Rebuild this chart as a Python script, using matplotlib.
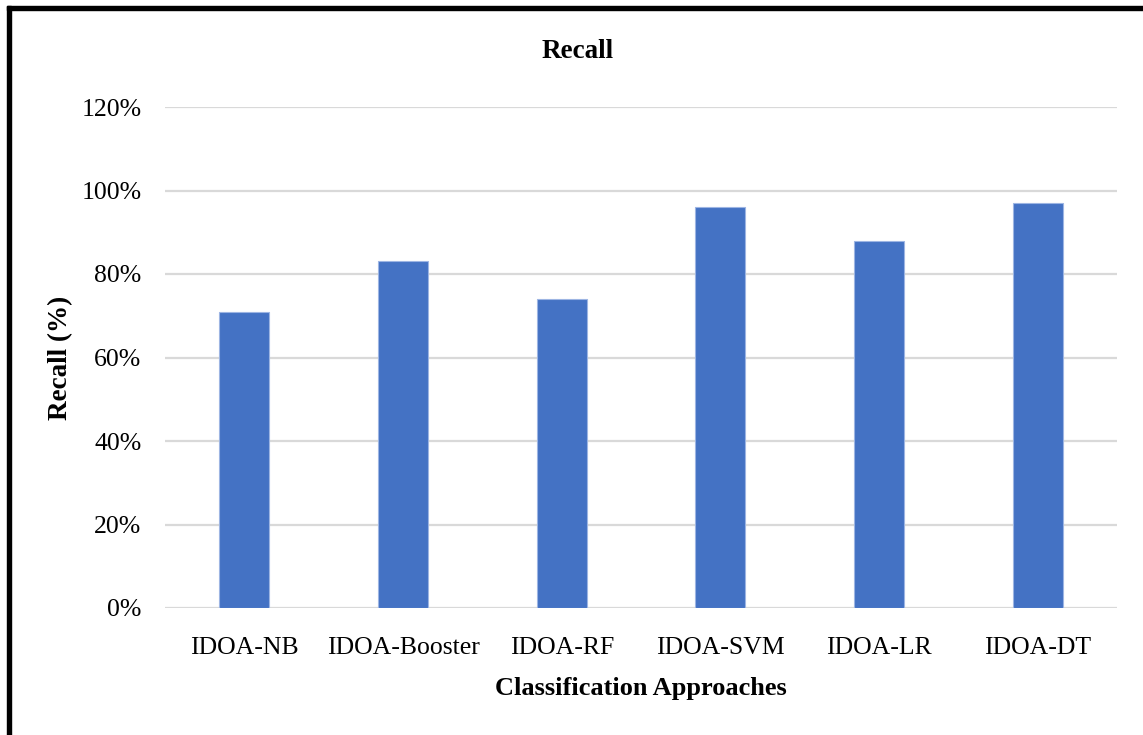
import matplotlib
matplotlib.use("Agg")
import matplotlib.pyplot as plt
from matplotlib.patches import Rectangle
from matplotlib.ticker import PercentFormatter

categories = ["IDOA-NB", "IDOA-Booster", "IDOA-RF", "IDOA-SVM", "IDOA-LR", "IDOA-DT"]
recall = [71, 83, 74, 96, 88, 97]
y_ticks = [0, 20, 40, 60, 80, 100, 120]

plt.rcParams["font.family"] = ["Liberation Serif", "DejaVu Serif"]

W, H = 1143, 735
fig = plt.figure(figsize=(W / 100, H / 100), dpi=100)
fig.patch.set_facecolor("white")

ax = fig.add_axes([165 / W, 1 - 608 / H, (1117 - 165) / W, (608 - 107) / H])

x = list(range(len(categories)))
ax.bar(x, recall, width=0.315, color="#4472C4", edgecolor="#9DB5E3",
       linewidth=0.8, zorder=3)

ax.set_xlim(-0.5, len(categories) - 0.5)
ax.set_ylim(0, 120)
ax.set_yticks(y_ticks)
ax.yaxis.set_major_formatter(PercentFormatter(decimals=0))
ax.set_xticks(x)
ax.set_xticklabels(categories)

ax.grid(axis="y", color="#D9D9D9", linewidth=1.6, zorder=0)
ax.set_axisbelow(True)
for s in ax.spines.values():
    s.set_visible(False)
ax.tick_params(axis="both", length=0, labelsize=18.5, colors="black")
ax.tick_params(axis="y", pad=17)
ax.tick_params(axis="x", pad=21)

fig.text(578 / W, 1 - 52 / H, "Recall", fontsize=19.5, fontweight="bold",
         ha="center", va="center")
ax.set_xlabel("Classification Approaches", fontsize=19, fontweight="bold",
              labelpad=13)
ax.set_ylabel("Recall (%)", fontsize=19.5, fontweight="bold", labelpad=6)

# black frame along the left and top edges
fig.patches.append(Rectangle((7 / W, 0), 4 / W, 1 - 6 / H,
                             transform=fig.transFigure, color="black",
                             zorder=10))
fig.patches.append(Rectangle((7 / W, 1 - 10 / H), 1 - 7 / W, 4 / H,
                             transform=fig.transFigure, color="black",
                             zorder=10))

fig.savefig("out.png", dpi=100)
